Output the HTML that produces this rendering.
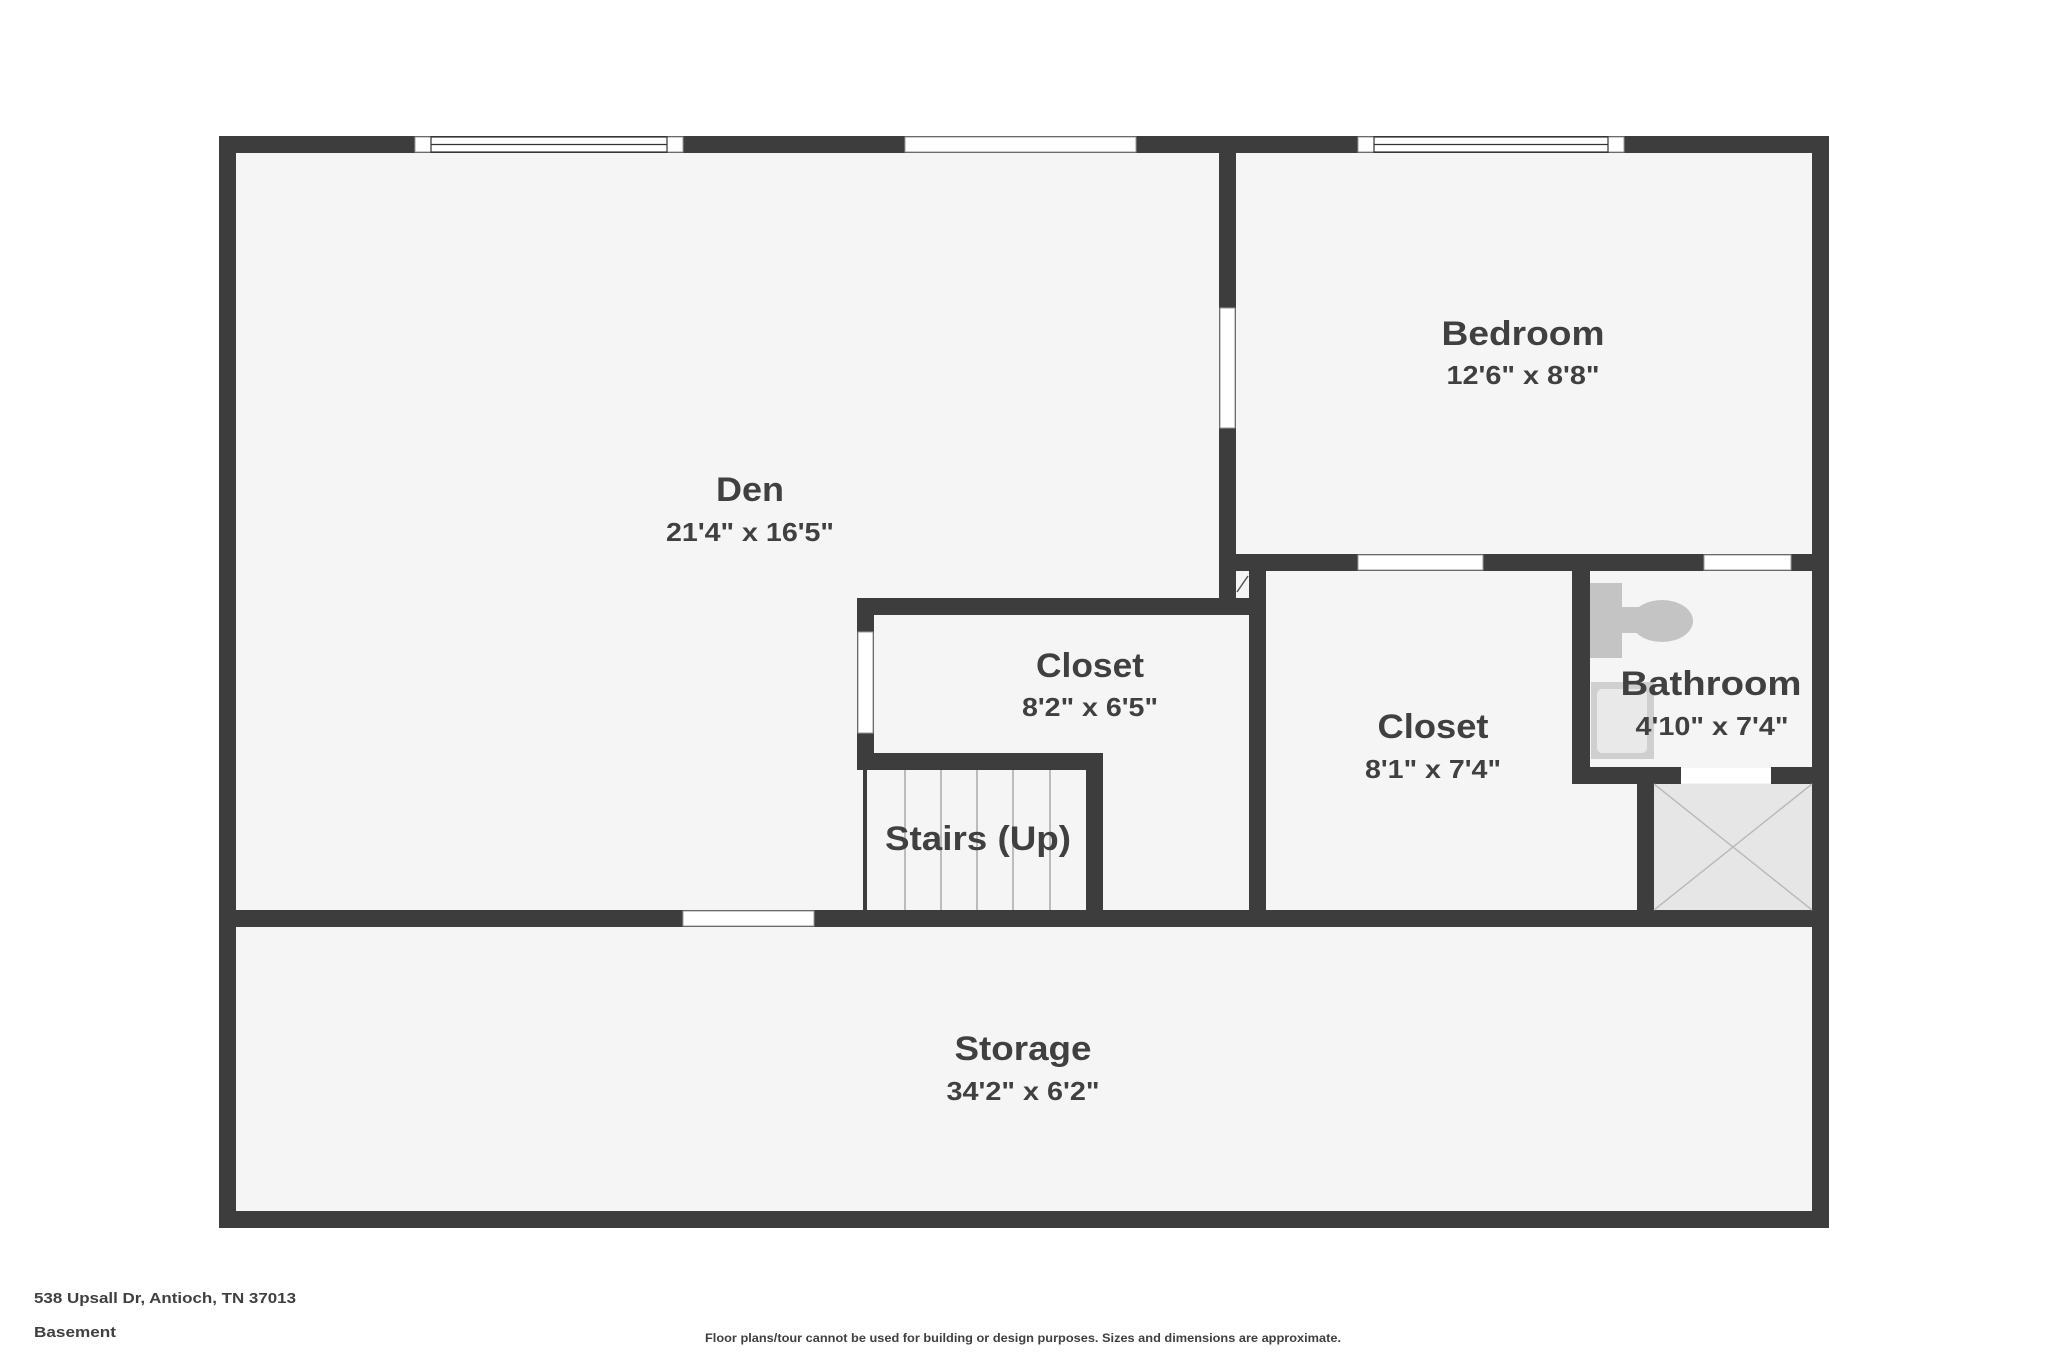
<!DOCTYPE html>
<html><head><meta charset="utf-8"><style>
html,body{margin:0;padding:0;background:#fff}
svg{display:block}
text{font-family:"Liberation Sans",sans-serif;fill:#404040;font-weight:bold}
</style></head><body>
<svg width="2048" height="1365" viewBox="0 0 2048 1365" xmlns="http://www.w3.org/2000/svg">
<rect width="2048" height="1365" fill="#fff"/>
<rect x="219" y="136" width="1610" height="1092" fill="#f5f5f5"/>
<g fill="#3d3d3d">
<rect x="219" y="136" width="1610" height="17"/>
<rect x="219" y="1211" width="1610" height="17"/>
<rect x="219" y="136" width="17" height="1092"/>
<rect x="1812" y="136" width="17" height="1092"/>
<rect x="1219" y="136" width="17" height="479"/>
<rect x="1219" y="554" width="610" height="17"/>
<rect x="857" y="598" width="409" height="17"/>
<rect x="857" y="598" width="17" height="172"/>
<rect x="1249" y="554" width="17" height="373"/>
<rect x="857" y="753" width="246" height="17"/>
<rect x="1086" y="753" width="17" height="174"/>
<rect x="219" y="910" width="1610" height="17"/>
<rect x="1572" y="554" width="18" height="229"/>
<rect x="1572" y="767" width="109" height="17"/>
<rect x="1771" y="767" width="58" height="17"/>
<rect x="1637" y="767" width="17" height="160"/>
</g>
<g fill="#fff" stroke="#999" stroke-width="1">
<rect x="415" y="137" width="268" height="15"/>
<rect x="905" y="137" width="231" height="15"/>
<rect x="1358" y="137" width="266" height="15"/>
<rect x="1220" y="308" width="15" height="120"/>
<rect x="1358" y="555" width="125" height="15"/>
<rect x="1704" y="555" width="87" height="15"/>
<rect x="858" y="632" width="15" height="101"/>
<rect x="683" y="911" width="131" height="15"/>
<rect x="1681" y="768" width="90" height="15" stroke="none"/>
</g>
<g stroke="#333" stroke-width="1.2" fill="none">
<rect x="431" y="137" width="236" height="15"/><line x1="431" y1="144.5" x2="667" y2="144.5"/>
<rect x="1374" y="137" width="234" height="15"/><line x1="1374" y1="144.5" x2="1608" y2="144.5"/>
</g>
<rect x="1236" y="571" width="13" height="27" fill="#f5f5f5"/>
<line x1="1237" y1="592" x2="1248" y2="576" stroke="#555" stroke-width="1.5"/>
<rect x="863" y="770" width="4" height="140" fill="#3d3d3d"/>
<g stroke="#aaa" stroke-width="1.5">
<line x1="905" y1="770" x2="905" y2="910"/><line x1="941" y1="770" x2="941" y2="910"/>
<line x1="977" y1="770" x2="977" y2="910"/><line x1="1013" y1="770" x2="1013" y2="910"/>
<line x1="1050" y1="770" x2="1050" y2="910"/>
</g>
<rect x="1654" y="784" width="158" height="126" fill="#e6e6e6"/>
<g stroke="#bbb" stroke-width="1.5"><line x1="1654" y1="784" x2="1812" y2="910"/><line x1="1812" y1="784" x2="1654" y2="910"/></g>
<g fill="#c4c4c4">
<rect x="1590" y="583" width="32" height="75"/>
<rect x="1620" y="607" width="20" height="26"/>
<ellipse cx="1662" cy="621" rx="31" ry="21"/>
</g>
<rect x="1591" y="682" width="63" height="77" fill="#cfcfcf"/>
<rect x="1597" y="689" width="50" height="64" rx="5" fill="#e9e9e9"/>
<g text-anchor="middle">
<text x="750" y="501" font-size="34" textLength="68" lengthAdjust="spacingAndGlyphs">Den</text>
<text x="750" y="541" font-size="26" textLength="168" lengthAdjust="spacingAndGlyphs">21'4" x 16'5"</text>
<text x="1523" y="345" font-size="34" textLength="163" lengthAdjust="spacingAndGlyphs">Bedroom</text>
<text x="1523" y="384" font-size="26" textLength="153" lengthAdjust="spacingAndGlyphs">12'6" x 8'8"</text>
<text x="1090" y="677" font-size="34" textLength="108" lengthAdjust="spacingAndGlyphs">Closet</text>
<text x="1090" y="716" font-size="26" textLength="136" lengthAdjust="spacingAndGlyphs">8'2" x 6'5"</text>
<text x="978" y="850" font-size="34" textLength="186" lengthAdjust="spacingAndGlyphs">Stairs (Up)</text>
<text x="1433" y="738" font-size="34" textLength="111" lengthAdjust="spacingAndGlyphs">Closet</text>
<text x="1433" y="778" font-size="26" textLength="136" lengthAdjust="spacingAndGlyphs">8'1" x 7'4"</text>
<text x="1711" y="695" font-size="34" textLength="181" lengthAdjust="spacingAndGlyphs">Bathroom</text>
<text x="1712" y="735" font-size="26" textLength="153" lengthAdjust="spacingAndGlyphs">4'10" x 7'4"</text>
<text x="1023" y="1060" font-size="34" textLength="137" lengthAdjust="spacingAndGlyphs">Storage</text>
<text x="1023" y="1100" font-size="26" textLength="153" lengthAdjust="spacingAndGlyphs">34'2" x 6'2"</text>
</g>
<text x="34" y="1303" font-size="15" textLength="262" lengthAdjust="spacingAndGlyphs">538 Upsall Dr, Antioch, TN 37013</text>
<text x="34" y="1337" font-size="15" textLength="82" lengthAdjust="spacingAndGlyphs">Basement</text>
<text x="705" y="1342" font-size="12" textLength="636" lengthAdjust="spacingAndGlyphs">Floor plans/tour cannot be used for building or design purposes. Sizes and dimensions are approximate.</text>
</svg>
</body></html>
